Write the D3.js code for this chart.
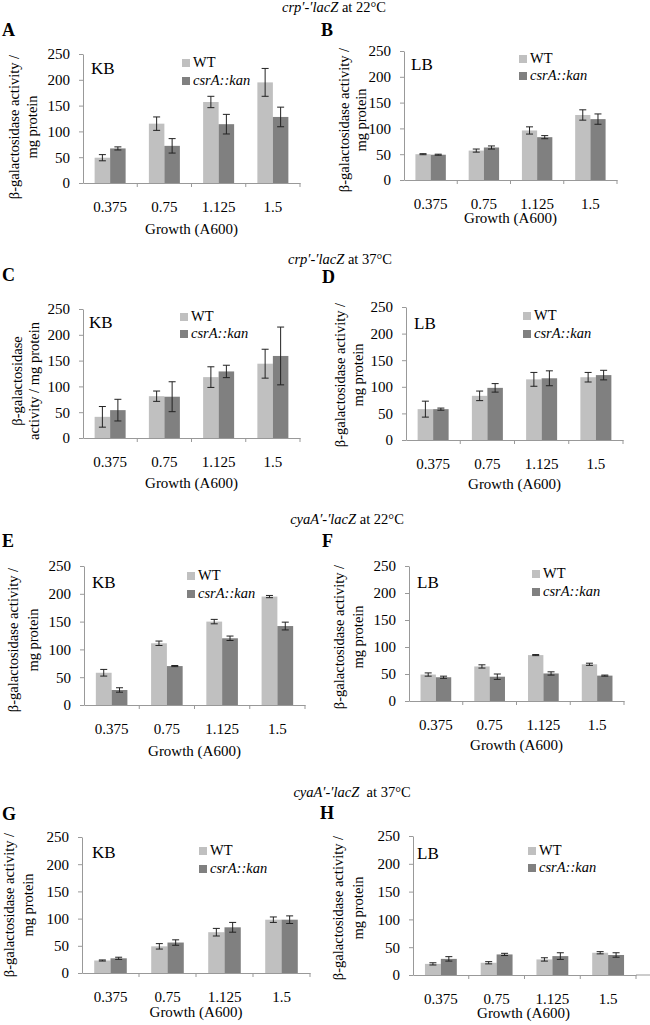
<!DOCTYPE html>
<html>
<head>
<meta charset="utf-8">
<script src="https://cdn.jsdelivr.net/npm/d3@7"></script>
<style>
  body { margin: 0; background: #fff; }
  svg { font-family: "Liberation Serif", "Times New Roman", serif; }
</style>
</head>
<body>
<svg class="chart" width="650" height="1025"></svg>
<script>
const growth = ["0.375", "0.75", "1.125", "1.5"];
const series = ["WT", "csrA::kan"];
const yTicks = [0, 50, 100, 150, 200, 250];

// crp'-'lacZ at 22°C, KB (A) and LB (B)
const wtA = [49, 115, 157, 195];
const wtErrA = [6, 13, 11, 27];
const kanA = [67, 72, 114, 128];
const kanErrA = [3, 14, 19, 19];
const wtB = [50, 57, 96, 126];
const wtErrB = [1, 3, 7, 10];
const kanB = [49, 63, 83, 118];
const kanErrB = [1, 3, 3, 10];

// crp'-'lacZ at 37°C
const wtC = [41, 81, 118, 144];
const wtErrC = [20, 10, 20, 28];
const kanC = [54, 80, 129, 159];
const kanErrC = [21, 29, 12, 56];
const wtD = [58, 83, 114, 118];
const wtErrD = [15, 9, 13, 9];
const kanD = [58, 98, 116, 122];
const kanErrD = [2, 8, 14, 9];

// cyaA'-'lacZ at 22°C
const wtE = [58, 111, 150, 195];
const wtErrE = [6, 4, 4, 2];
const kanE = [27, 70, 120, 142];
const kanErrE = [4, 1, 4, 7];
const wtF = [49, 64, 85, 68];
const wtErrF = [3, 3, 1, 2];
const kanF = [44, 45, 51, 47];
const kanErrF = [2, 5, 3, 1];

// cyaA'-'lacZ at 37°C
const wtG = [23, 49, 75, 98];
const wtErrG = [1, 5, 7, 5];
const kanG = [27, 56, 84, 98];
const kanErrG = [2, 5, 9, 7];
const wtH = [20, 22, 28, 40];
const wtErrH = [2, 2, 3, 2];
const kanH = [29, 37, 34, 36];
const kanErrH = [4, 2, 6, 4];

const titles = [
  {gene: "crp\u2032-\u2032lacZ", rest: " at 22°C", x: 334, y: 12},
  {gene: "crp\u2032-\u2032lacZ", rest: " at 37°C", x: 340, y: 264},
  {gene: "cyaA\u2032-\u2032lacZ", rest: " at 22°C", x: 347, y: 524},
  {gene: "cyaA\u2032-\u2032lacZ", rest: "  at 37°C", x: 352, y: 797}
];

const twoLine = ["β-galactosidase activity /", "mg protein"];
const twoLineC = ["β-galactosidase", "activity / mg protein"];

const panels = [
  {letter: "A", lx: 2, ly: 36, medium: "KB", mx: 91, my: 74, wt: wtA, wtErr: wtErrA, kan: kanA, kanErr: kanErrA,
   x0: 83, x1: 300, y0: 183, yTop: 54, gy: 234, lab: twoLine, labX: [14, 32], labY: 127, legX: 182, legY: [59, 77]},
  {letter: "B", lx: 321, ly: 36, medium: "LB", mx: 411, my: 70, wt: wtB, wtErr: wtErrB, kan: kanB, kanErr: kanErrB,
   x0: 404, x1: 617, y0: 180, yTop: 51, gy: 223, lab: twoLine, labX: [344, 361], labY: 120, legX: 519, legY: [55, 72]},
  {letter: "C", lx: 2, ly: 281, medium: "KB", mx: 89, my: 328, wt: wtC, wtErr: wtErrC, kan: kanC, kanErr: kanErrC,
   x0: 83, x1: 300, y0: 438, yTop: 309, gy: 488, lab: twoLineC, labX: [17, 34], labY: 381, legX: 180, legY: [313, 330]},
  {letter: "D", lx: 322, ly: 283, medium: "LB", mx: 414, my: 329, wt: wtD, wtErr: wtErrD, kan: kanD, kanErr: kanErrD,
   x0: 406, x1: 623, y0: 440, yTop: 307, gy: 489, lab: twoLine, labX: [340, 358], labY: 375, legX: 523, legY: [312, 330]},
  {letter: "E", lx: 2, ly: 547, medium: "KB", mx: 92, my: 588, wt: wtE, wtErr: wtErrE, kan: kanE, kanErr: kanErrE,
   x0: 84, x1: 305, y0: 705, yTop: 566, gy: 756, lab: twoLine, labX: [13, 33], labY: 640, legX: 187, legY: [572, 590]},
  {letter: "F", lx: 322, ly: 547, medium: "LB", mx: 417, my: 588, wt: wtF, wtErr: wtErrF, kan: kanF, kanErr: kanErrF,
   x0: 409, x1: 624, y0: 701, yTop: 566, gy: 750, lab: twoLine, labX: [339, 358], labY: 637, legX: 532, legY: [570, 588]},
  {letter: "G", lx: 2, ly: 820, medium: "KB", mx: 92, my: 858, wt: wtG, wtErr: wtErrG, kan: kanG, kanErr: kanErrG,
   x0: 82, x1: 310, y0: 973, yTop: 837, gy: 1017, lab: twoLine, labX: [9, 28], labY: 905, legX: 199, legY: [847, 865]},
  {letter: "H", lx: 320, ly: 819, medium: "LB", mx: 417, my: 859, wt: wtH, wtErr: wtErrH, kan: kanH, kanErr: kanErrH,
   x0: 413, x1: 636, axisEnd: 650, y0: 975, yTop: 836, gy: 1018, lab: twoLine, labX: [338, 358], labY: 908, legX: 528, legY: [847, 864]}
];

const color = d3.scaleOrdinal().domain(series).range(["#c0c0c0", "#808080"]);
const axisGray = "#999";
const serif = "Liberation Serif, Times New Roman, serif";

const svg = d3.select(".chart");

titles.forEach(t => {
  const txt = svg.append("text")
    .attr("x", t.x).attr("y", t.y)
    .attr("text-anchor", "middle")
    .attr("font-size", 14.5)
    .attr("xml:space", "preserve");
  txt.append("tspan").attr("font-style", "italic").text(t.gene);
  txt.append("tspan").text(t.rest);
});

function drawPanel(p) {
  const g = svg.append("g").attr("font-family", serif);
  const gap = 1.5 / 3.5;
  const x = d3.scaleBand().domain(growth).range([p.x0, p.x1])
    .paddingInner(gap).paddingOuter(gap / 2);
  const xs = d3.scaleBand().domain(series).range([0, x.bandwidth()]);
  const y = d3.scaleLinear().domain([0, 250]).range([p.y0, p.yTop]);

  g.append("text")
    .attr("x", p.lx).attr("y", p.ly)
    .attr("font-size", 18).attr("font-weight", "bold")
    .text(p.letter);

  // y axis
  const ya = g.append("g")
    .attr("transform", `translate(${p.x0},0)`)
    .call(d3.axisLeft(y).tickValues(yTicks).tickSize(4).tickPadding(9).tickSizeOuter(0))
    .attr("font-family", serif);
  ya.select(".domain").attr("stroke", axisGray);
  ya.selectAll(".tick line").attr("stroke", axisGray);
  ya.selectAll("text").attr("font-size", 15).attr("fill", "#000");

  // x axis, ticks between categories
  const xa = g.append("g")
    .attr("transform", `translate(0,${p.y0})`)
    .call(d3.axisBottom(x).tickSize(0).tickPadding(18).tickSizeOuter(0))
    .attr("font-family", serif);
  xa.select(".domain").attr("stroke", axisGray);
  xa.selectAll("text").attr("font-size", 15).attr("fill", "#000");
  if (p.axisEnd) {
    xa.append("line").attr("x1", p.x1).attr("x2", p.axisEnd)
      .attr("stroke", axisGray);
  }
  const bounds = d3.range(1, growth.length + 1).map(i => p.x0 + i * x.step());
  xa.selectAll(".bound").data(bounds).enter().append("line")
    .attr("x1", d => d).attr("x2", d => d)
    .attr("y1", 0).attr("y2", 4)
    .attr("stroke", axisGray);

  // bars
  const rows = growth.map((c, i) => ({
    c,
    vals: [
      {s: series[0], v: p.wt[i], e: p.wtErr[i]},
      {s: series[1], v: p.kan[i], e: p.kanErr[i]}
    ]
  }));
  const grp = g.selectAll(".grp").data(rows).enter().append("g")
    .attr("transform", d => `translate(${x(d.c)},0)`);
  grp.selectAll("rect").data(d => d.vals).enter().append("rect")
    .attr("x", d => xs(d.s))
    .attr("y", d => y(d.v))
    .attr("width", xs.bandwidth())
    .attr("height", d => y(0) - y(d.v))
    .attr("fill", d => color(d.s));

  // error bars
  const eb = grp.selectAll(".err").data(d => d.vals).enter().append("g")
    .attr("stroke", "#222").attr("stroke-width", 1);
  const cx = d => xs(d.s) + xs.bandwidth() / 2;
  eb.append("line")
    .attr("x1", cx).attr("x2", cx)
    .attr("y1", d => y(d.v + d.e)).attr("y2", d => y(d.v - d.e));
  [1, -1].forEach(sign => {
    eb.append("line")
      .attr("x1", d => cx(d) - 3.5).attr("x2", d => cx(d) + 3.5)
      .attr("y1", d => y(d.v + sign * d.e)).attr("y2", d => y(d.v + sign * d.e));
  });

  // medium label
  g.append("text").attr("x", p.mx).attr("y", p.my)
    .attr("font-size", 17).text(p.medium);

  // legend
  series.forEach((s, i) => {
    g.append("rect")
      .attr("x", p.legX).attr("y", p.legY[i])
      .attr("width", 8).attr("height", 8)
      .attr("fill", color(s));
    g.append("text")
      .attr("x", p.legX + 11).attr("y", p.legY[i] + 8)
      .attr("font-size", 14.5)
      .attr("font-style", i === 1 ? "italic" : "normal")
      .text(s);
  });

  // axis titles
  g.append("text")
    .attr("x", (p.x0 + (p.axisEnd || p.x1)) / 2 + (p.axisEnd ? -8 : 0))
    .attr("y", p.gy)
    .attr("text-anchor", "middle")
    .attr("font-size", 15)
    .text("Growth (A600)");
  p.lab.forEach((line, i) => {
    g.append("text")
      .attr("transform", `translate(${p.labX[i]},${p.labY}) rotate(-90)`)
      .attr("text-anchor", "middle")
      .attr("dy", "0.35em")
      .attr("font-size", 14.5)
      .text(line);
  });
}

panels.forEach(drawPanel);
</script>
</body>
</html>
